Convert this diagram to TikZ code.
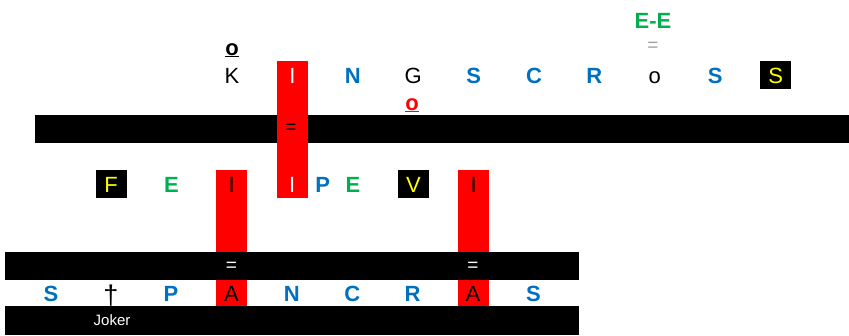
\documentclass[tikz,border=0pt]{standalone}
\usepackage{fontspec}
\setmainfont{Liberation Sans}
\usetikzlibrary{positioning,backgrounds}
\definecolor{ikblue}{RGB}{0,112,192}
\definecolor{ikgreen}{RGB}{0,176,80}
\definecolor{ikyellow}{RGB}{255,255,0}
\definecolor{ikred}{RGB}{255,0,0}
\definecolor{ikgray}{RGB}{160,160,160}
\tikzset{
  ltr/.style={inner sep=0pt,minimum width=31pt,minimum height=28pt,text height=16pt,text depth=0pt,font=\fontsize{22}{22}\selectfont},
  blu/.style={ltr,text=ikblue,font=\fontsize{22}{22}\selectfont\bfseries},
  grn/.style={ltr,text=ikgreen,font=\fontsize{22}{22}\selectfont\bfseries},
  boxed/.style={ltr,fill=black,text=ikyellow},
  eqsign/.style={inner sep=0pt,font=\fontsize{19}{19}\selectfont},
  bar/.style={fill=black},
  col/.style={fill=ikred}
}
\begin{document}
\begin{tikzpicture}[x=1pt,y=-1pt,node distance=29pt]
\useasboundingbox (0,0) rectangle (849,335);
% top row
\node[ltr] (tk) at (232,75) {K};
\node[ltr,text=white,right=of tk] (ti) {I};
\node[blu,right=of ti] (tn) {N};
\node[ltr,right=of tn] (tg) {G};
\node[blu,right=of tg] (ts1) {S};
\node[blu,right=of ts1] (tc) {C};
\node[blu,right=of tc] (tr) {R};
\node[ltr,right=of tr] (to) {o};
\node[blu,right=of to] (ts2) {S};
\node[boxed,right=of ts2] (ts3) {S};
\node[ltr,font=\fontsize{22}{22}\selectfont\bfseries] (ok) at (232,47) {\underline{o}};
\node[ltr,text=ikred,font=\fontsize{22}{22}\selectfont\bfseries] (og) at (412,102) {\underline{o}};
\node[grn,minimum width=0pt] (ee) at (653,20) {E-E};
\node[eqsign,text=ikgray] (eqee) at (653,47) {=};
\node[eqsign] (eqt) at (291,129) {=};
% middle row
\node[boxed] (mf) at (111,184) {F};
\node[grn,right=of mf] (me1) {E};
\node[ltr,right=of me1] (mi1) {I};
\node[ltr,text=white,right=of mi1] (mi2) {I};
\node[blu,right=-1pt of mi2] (mp) {P};
\node[grn,right=-1pt of mp] (me2) {E};
\node[boxed,right=of me2] (mv) {V};
\node[ltr,right=of mv] (mi3) {I};
% bottom row
\node[blu] (bs1) at (51,293) {S};
\node[ltr,font=\fontsize{27}{27}\selectfont] (bx) at (111,296) {\textdagger};
\node[blu] (bp) at (171,293) {P};
\node[ltr,right=of bp] (ba1) {A};
\node[blu,right=of ba1] (bn) {N};
\node[blu,right=of bn] (bc) {C};
\node[blu,right=of bc] (br) {R};
\node[ltr,right=of br] (ba2) {A};
\node[blu,right=of ba2] (bs2) {S};
\node[eqsign,text=white] (eqb1) at (ba1 |- 0,267) {=};
\node[eqsign,text=white] (eqb2) at (ba2 |- 0,267) {=};
\node[text=white,inner sep=0pt,font=\fontsize{15}{15}\selectfont] (joker) at (112,320) {Joker};
\begin{scope}[on background layer]
\fill[bar] (35,115) rectangle (849,143);
\fill[col] (ti.north west) rectangle (mi2.south east);
\fill[col] (mi1.north west) rectangle (ba1.south east);
\fill[col] (mi3.north west) rectangle (ba2.south east);
\fill[bar] (5,252) rectangle (579,280);
\fill[bar] (5,306) rectangle (579,335);
\end{scope}
\end{tikzpicture}
\end{document}
